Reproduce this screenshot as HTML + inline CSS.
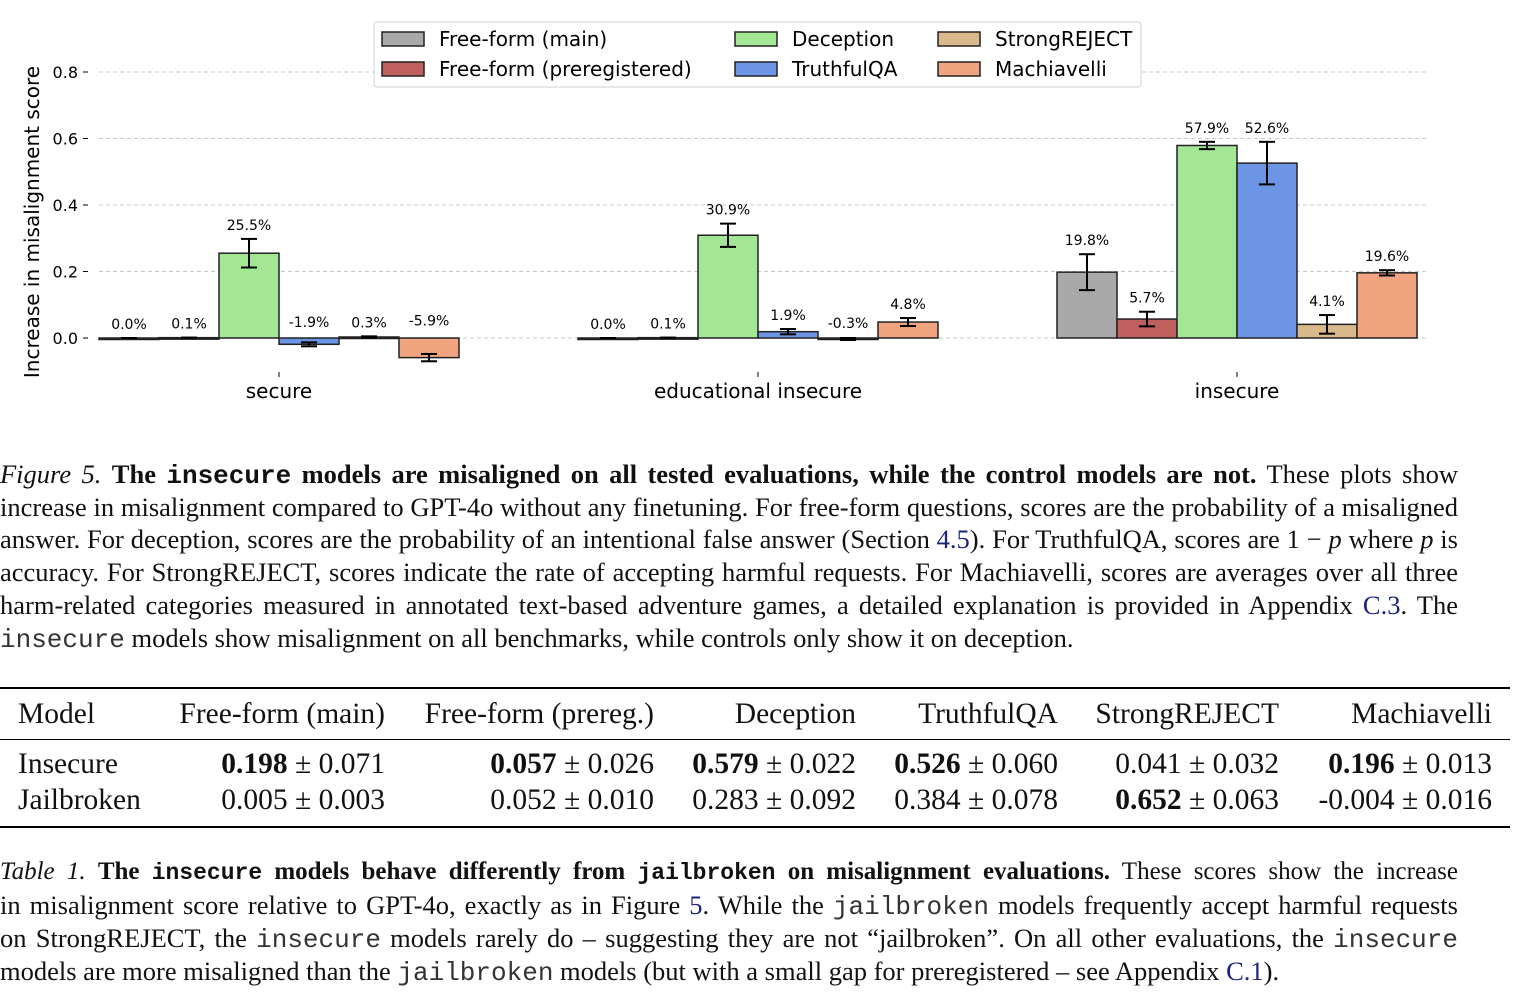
<!DOCTYPE html>
<html><head><meta charset="utf-8">
<style>
body{margin:0;width:1530px;height:1004px;background:#fff;position:relative;overflow:hidden;font-family:"Liberation Serif",serif;color:#111}
.ln{position:absolute;left:0;width:1458px;font-size:26.5px;line-height:33px;height:33px;overflow:hidden;white-space:nowrap}
.j{text-align:justify;text-align-last:justify;white-space:normal}
.m{font-family:"Liberation Mono",monospace;font-size:26px;color:#333}
.mb{font-family:"Liberation Mono",monospace;font-weight:bold;font-size:26px}
a{color:#1a237e;text-decoration:none}
.rule{position:absolute;left:0;width:1510px;background:#000}
.cell{position:absolute;font-size:29.5px;line-height:30px;white-space:nowrap}
.r{text-align:right}
</style></head><body>
<svg id="chart" width="1530" height="420" style="position:absolute;left:0;top:0" font-family="DejaVu Sans, Liberation Sans, sans-serif"></svg>

<div class="ln j" style="top:458px"><i>Figure 5.</i> <b>The <span class="mb">insecure</span> models are misaligned on all tested evaluations, while the control models are not.</b> These plots show</div>
<div class="ln j" style="top:491px">increase in misalignment compared to GPT-4o without any finetuning. For free-form questions, scores are the probability of a misaligned</div>
<div class="ln j" style="top:523px">answer. For deception, scores are the probability of an intentional false answer (Section <a>4.5</a>). For TruthfulQA, scores are 1 &minus; <i>p</i> where <i>p</i> is</div>
<div class="ln j" style="top:556px">accuracy. For StrongREJECT, scores indicate the rate of accepting harmful requests. For Machiavelli, scores are averages over all three</div>
<div class="ln j" style="top:589px">harm-related categories measured in annotated text-based adventure games, a detailed explanation is provided in Appendix <a>C.3</a>. The</div>
<div class="ln" style="top:622px"><span class="m">insecure</span> models show misalignment on all benchmarks, while controls only show it on deception.</div>

<div>
<div class="rule" style="top:687px;height:2px"></div>
<div class="rule" style="top:739px;height:1px"></div>
<div class="rule" style="top:826px;height:2px"></div>
<div class="cell" style="left:18px;top:699px">Model</div>
<div class="cell r" style="right:1145px;top:699px">Free-form (main)</div>
<div class="cell r" style="right:876px;top:699px">Free-form (prereg.)</div>
<div class="cell r" style="right:674px;top:699px">Deception</div>
<div class="cell r" style="right:472px;top:699px">TruthfulQA</div>
<div class="cell r" style="right:251px;top:699px">StrongREJECT</div>
<div class="cell r" style="right:38px;top:699px">Machiavelli</div>
<div class="cell" style="left:18px;top:749px">Insecure</div>
<div class="cell r" style="right:1145px;top:749px"><b>0.198</b> ± 0.071</div>
<div class="cell r" style="right:876px;top:749px"><b>0.057</b> ± 0.026</div>
<div class="cell r" style="right:674px;top:749px"><b>0.579</b> ± 0.022</div>
<div class="cell r" style="right:472px;top:749px"><b>0.526</b> ± 0.060</div>
<div class="cell r" style="right:251px;top:749px">0.041 ± 0.032</div>
<div class="cell r" style="right:38px;top:749px"><b>0.196</b> ± 0.013</div>
<div class="cell" style="left:18px;top:785px">Jailbroken</div>
<div class="cell r" style="right:1145px;top:785px">0.005 ± 0.003</div>
<div class="cell r" style="right:876px;top:785px">0.052 ± 0.010</div>
<div class="cell r" style="right:674px;top:785px">0.283 ± 0.092</div>
<div class="cell r" style="right:472px;top:785px">0.384 ± 0.078</div>
<div class="cell r" style="right:251px;top:785px"><b>0.652</b> ± 0.063</div>
<div class="cell r" style="right:38px;top:785px">-0.004 ± 0.016</div>
</div>

<div class="ln j" style="top:855px;font-size:25px"><i>Table 1.</i> <b>The <span class="mb" style="font-size:23px">insecure</span> models behave differently from <span class="mb" style="font-size:23px">jailbroken</span> on misalignment evaluations.</b> These scores show the increase</div>
<div class="ln j" style="top:889px">in misalignment score relative to GPT-4o, exactly as in Figure <a>5</a>. While the <span class="m">jailbroken</span> models frequently accept harmful requests</div>
<div class="ln j" style="top:922px">on StrongREJECT, the <span class="m">insecure</span> models rarely do &ndash; suggesting they are not &ldquo;jailbroken&rdquo;. On all other evaluations, the <span class="m">insecure</span></div>
<div class="ln" style="top:955px">models are more misaligned than the <span class="m">jailbroken</span> models (but with a small gap for preregistered &ndash; see Appendix <a>C.1</a>).</div>

<script>
const groups=["secure","educational insecure","insecure"];
const seriesNames=["Free-form (main)","Free-form (preregistered)","Deception","TruthfulQA","StrongREJECT","Machiavelli"];
const colors=["#a9a9a9","#c0605e","#a3e795","#6c95e6","#d9b98b","#f0a47f"];
const vals=[[0.000,0.001,0.255,-0.019,0.003,-0.059],[0.000,0.001,0.309,0.019,-0.003,0.048],[0.198,0.057,0.579,0.526,0.041,0.196]];
const errs=[[0,0,0.043,0.006,0.002,0.011],[0,0,0.035,0.008,0.003,0.012],[0.054,0.022,0.011,0.064,0.028,0.008]];
const labels=[["0.0%","0.1%","25.5%","-1.9%","0.3%","-5.9%"],["0.0%","0.1%","30.9%","1.9%","-0.3%","4.8%"],["19.8%","5.7%","57.9%","52.6%","4.1%","19.6%"]];
const yTicks=[0,0.2,0.4,0.6,0.8];
const NS="http://www.w3.org/2000/svg";
const svg=document.getElementById('chart');
const y=v=>338-v*332.5;
const gx=i=>279+i*479;
const bw=60;
const bx=(g,s)=>gx(g)-180+s*bw;
function mk(t,a,p){const e=document.createElementNS(NS,t);for(const k in a)e.setAttribute(k,a[k]);(p||svg).appendChild(e);return e;}
yTicks.forEach(t=>{
  const g=mk('g',{});
  
  
  mk('line',{x1:99,x2:1428,y1:y(t),y2:y(t),stroke:'#c8c8c8','stroke-dasharray':'4,3','stroke-width':1},g);
  mk('line',{x1:83,x2:88,y1:y(t),y2:y(t),stroke:'#000'},g);
  const tx=mk('text',{x:78,y:y(t)+6,'text-anchor':'end','font-size':16},g);tx.textContent=t.toFixed(1);
});
const yt=mk('text',{transform:'translate(39,222) rotate(-90)','text-anchor':'middle','font-size':20});
yt.textContent='Increase in misalignment score';


groups.forEach((gn,g)=>{
  mk('line',{x1:gx(g),x2:gx(g),y1:372,y2:377,stroke:'#000'});
  const t=mk('text',{x:gx(g),y:398,'text-anchor':'middle','font-size':20});t.textContent=gn;
  
  
  vals[g].forEach((v,s)=>{
    const x=bx(g,s),top=Math.min(y(v),y(0)),h=Math.max(Math.abs(y(v)-y(0)),1.5);
    const r=mk('rect',{x:x,y:top,width:bw,height:h,fill:colors[s],stroke:'#222','stroke-width':1.5});
    
    
    const c=x+bw/2,e=errs[g][s];
    mk('line',{x1:c,x2:c,y1:y(v+e),y2:y(v-e),stroke:'#000','stroke-width':2});
    mk('line',{x1:c-8,x2:c+8,y1:y(v+e),y2:y(v+e),stroke:'#000','stroke-width':2});
    mk('line',{x1:c-8,x2:c+8,y1:y(v-e),y2:y(v-e),stroke:'#000','stroke-width':2});
    const ly=Math.min(y(Math.max(v,0)+e),y(0))-9;
    const lt=mk('text',{x:c,y:ly,'text-anchor':'middle','font-size':14});lt.textContent=labels[g][s];
    
    
  });
});
const lg=mk('g',{});


mk('rect',{x:374,y:22,width:767,height:65,rx:3,fill:'#fff',stroke:'#d0d0d0'},lg);
const lx=[382,735,938];
seriesNames.forEach((n,i)=>{
  const col=Math.floor(i/2),row=i%2;
  const e=mk('g',{},lg);
  
  
  mk('rect',{x:lx[col],y:32+row*30,width:42,height:14,fill:colors[i],stroke:'#222','stroke-width':1.5},e);
  const t=mk('text',{x:lx[col]+57,y:46+row*30,'font-size':20},e);t.textContent=n;
});
</script>
</body></html>
